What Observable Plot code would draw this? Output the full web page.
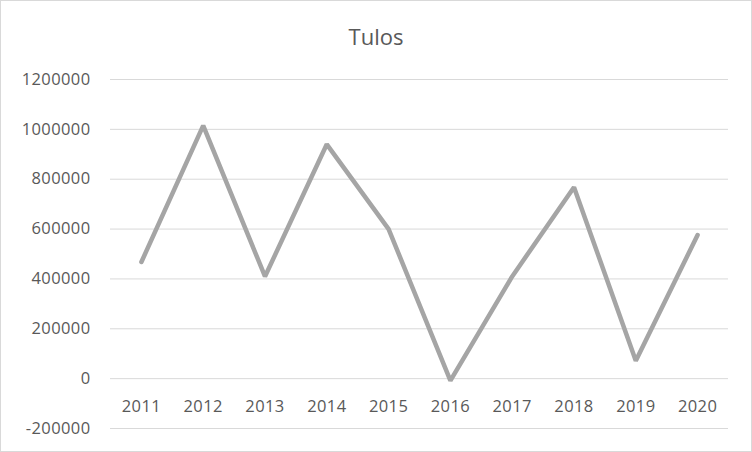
<!DOCTYPE html>
<html>
<head>
<meta charset="utf-8">
<script src="https://cdn.jsdelivr.net/npm/d3@7"></script>
<script src="https://cdn.jsdelivr.net/npm/@observablehq/plot@0.6"></script>
<style>
  html, body { margin: 0; padding: 0; background: #fff; }
  #wrap { position: relative; width: 752px; height: 452px; overflow: hidden; font-family: "Open Sans", Lato, sans-serif; }
  #title { position: absolute; left: 0; top: 21px; width: 752px; text-align: center; font-size: 22px; line-height: 30px; color: #595959; }
  #chart { position: absolute; left: 0; top: 60px; }
  #border { position: absolute; left: 0; top: 0; width: 750px; height: 450px; border: 1px solid #d9d9d9; pointer-events: none; }
</style>
</head>
<body>
<div id="wrap">
  <div id="title">Tulos</div>
  <div id="chart"></div>
  <div id="border"></div>
</div>
<script>
const years = ["2011","2012","2013","2014","2015","2016","2017","2018","2019","2020"];
const tulos = [468000, 1015000, 410000, 940000, 600000, -8000, 410000, 768000, 72000, 576000];
const yTicks = [-200000, 0, 200000, 400000, 600000, 800000, 1000000, 1200000];

const data = years.map((y, i) => ({year: y, value: tulos[i]}));

const chart = Plot.plot({
  width: 752,
  height: 392,
  marginTop: 19,
  marginBottom: 24,
  marginLeft: 110,
  marginRight: 24,
  style: {fontFamily: "'Open Sans', Lato, sans-serif", fontSize: "16.5px", color: "#595959", background: "transparent", letterSpacing: "0.4px"},
  x: {type: "point", domain: years, padding: 0.5, round: false},
  y: {domain: [-200000, 1200000]},
  marks: [
    Plot.gridY(yTicks, {stroke: "#d9d9d9", strokeOpacity: 1, strokeWidth: 1}),
    Plot.axisY(yTicks, {tickSize: 0, tickPadding: 20, tickFormat: d => String(d), label: null, fill: "#595959"}),
    Plot.axisX(years, {tickSize: 0, tickPadding: 0, dy: -28, label: null, fill: "#595959"}),
    Plot.line(data, {x: "year", y: "value", stroke: "#a5a5a5", strokeWidth: 4.5, strokeLinejoin: "miter", strokeLinecap: "round"})
  ]
});
document.getElementById("chart").appendChild(chart);
</script>
</body>
</html>
